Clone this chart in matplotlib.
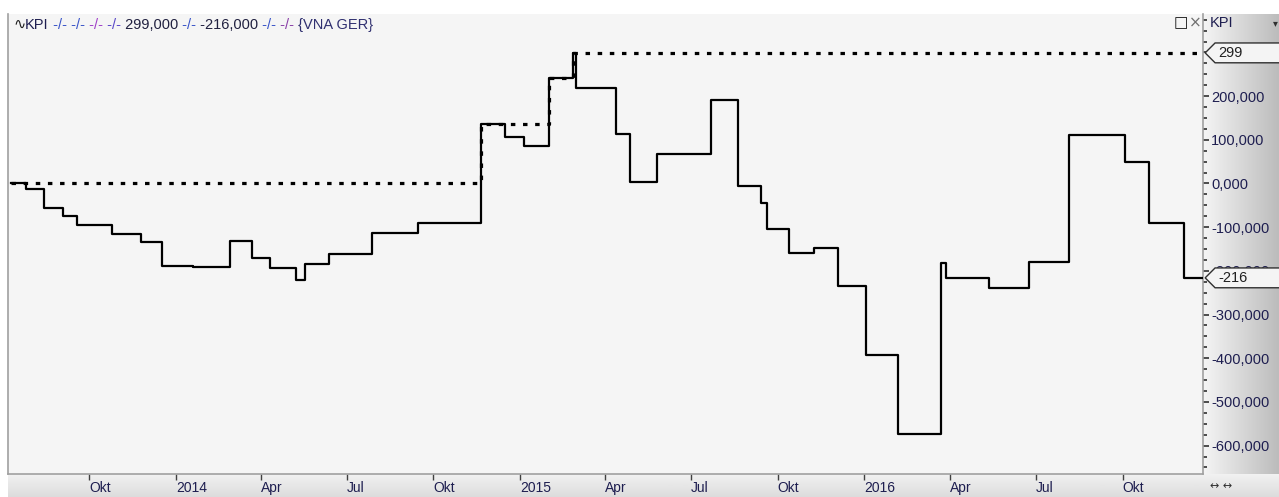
import numpy as np
import pandas as pd
import matplotlib
matplotlib.use('Agg')
import matplotlib.pyplot as plt
from matplotlib.ticker import MultipleLocator, FixedLocator, FuncFormatter
from matplotlib.colors import LinearSegmentedColormap
from matplotlib.path import Path
from matplotlib import transforms

# KPI step series (change dates and values)
kpi_dates = ['2013-07-10', '2013-07-26', '2013-08-14', '2013-09-03', '2013-09-18',
             '2013-10-25', '2013-11-25', '2013-12-17', '2014-01-19', '2014-02-27',
             '2014-03-23', '2014-04-11', '2014-05-08', '2014-05-18', '2014-06-12',
             '2014-07-28', '2014-09-15', '2014-11-21', '2014-12-16', '2015-01-05',
             '2015-02-01', '2015-02-26', '2015-03-01', '2015-04-13', '2015-04-27',
             '2015-05-26', '2015-07-22', '2015-08-20', '2015-09-13', '2015-09-20',
             '2015-10-13', '2015-11-09', '2015-12-04', '2016-01-03', '2016-02-06',
             '2016-03-22', '2016-03-28', '2016-05-12', '2016-06-24', '2016-08-05',
             '2016-10-03', '2016-10-29', '2016-12-05', '2016-12-25']
kpi_values = [0, -13, -55, -74, -95,
              -116, -133, -188, -191, -131,
              -170, -194, -221, -185, -161,
              -114, -90, 136, 106, 86,
              241, 299, 218, 113, 3,
              68, 191, -5, -44, -105,
              -160, -147, -235, -393, -574,
              -183, -217, -240, -179, 111,
              49, -91, -216, -216]

# high-water mark (dotted)
high_dates = ['2013-07-10', '2014-11-20', '2015-02-01', '2015-02-26', '2016-12-25']
high_values = [0, 136, 241, 299, 299]

tick_dates = ['2013-10-01', '2014-01-01', '2014-04-01', '2014-07-01', '2014-10-01',
              '2015-01-01', '2015-04-01', '2015-07-01', '2015-10-01', '2016-01-01',
              '2016-04-01', '2016-07-01', '2016-10-01']
tick_labels = ['Okt', '2014', 'Apr', 'Jul', 'Okt', '2015', 'Apr', 'Jul', 'Okt',
               '2016', 'Apr', 'Jul', 'Okt']
y_ticks = [-600, -500, -400, -300, -200, -100, 0, 100, 200]

last_value = -216
top_value = 299

W, H = 1279, 497
FONT = ['Liberation Sans', 'DejaVu Sans']
NAVY = '#1e1e50'
plt.rcParams['font.family'] = FONT

fig = plt.figure(figsize=(W / 100, H / 100), dpi=100)
fig.patch.set_facecolor('white')

# background panels
panel = fig.add_axes([1204 / W, 23 / H, 75 / W, 460 / H])
panel.imshow(np.linspace(0, 1, 100).reshape(1, -1), aspect='auto', extent=[0, 1, 0, 1],
             cmap=LinearSegmentedColormap.from_list('p', ['#f4f4f4', '#bcbcbc']))
panel.axis('off')

band = fig.add_axes([8 / W, 0, 1271 / W, 23 / H])
band.imshow(np.linspace(0, 1, 50).reshape(-1, 1), aspect='auto', extent=[0, 1, 0, 1],
            cmap=LinearSegmentedColormap.from_list('b', ['#f2f2f2', '#dcdcdc']))
band.axis('off')

ax = fig.add_axes([8 / W, 23 / H, 1195 / W, 460 / H])
ax.set_facecolor('#f5f5f5')

x = pd.to_datetime(kpi_dates)
ax.plot(x, kpi_values, drawstyle='steps-post', color='black', lw=1.6, zorder=3)
xh = pd.to_datetime(high_dates)
ax.plot(xh, high_values, drawstyle='steps-post', color='black', lw=2.3,
        dashes=(1.4, 2.4), zorder=4)

ax.set_xlim(pd.Timestamp('2013-07-07'), pd.Timestamp('2016-12-25'))
ax.set_ylim(-665, 388)

ax.spines['top'].set_visible(False)
for s in ['left', 'right', 'bottom']:
    ax.spines[s].set_color('#a0a0a0')
    ax.spines[s].set_linewidth(1.2)

# x axis
ax.xaxis.set_major_locator(FixedLocator(matplotlib.dates.date2num(pd.to_datetime(tick_dates))))
ax.set_xticklabels(tick_labels)
ax.tick_params(axis='x', direction='out', length=4, width=1, color='#404040',
               labelsize=10, labelcolor=NAVY, pad=1)
for lab in ax.get_xticklabels():
    lab.set_ha('left')

# y axis on right
ax.yaxis.tick_right()
ax.yaxis.set_major_locator(FixedLocator(y_ticks))
ax.yaxis.set_minor_locator(MultipleLocator(25))
ax.yaxis.set_major_formatter(FuncFormatter(lambda v, p: f'{v:.3f}'.replace('.', ',')))
ax.tick_params(axis='y', which='major', direction='out', length=4, width=1.2,
               color='#303030', labelsize=10.5, labelcolor=NAVY, pad=2)
ax.tick_params(axis='y', which='minor', direction='out', length=3, width=1.2,
               color='#303030')


def tag_box(x0, y0, width, height, mutation_size):
    p = 0.2 * mutation_size
    x0, y0, height = x0 - p, y0 - p, height + 2 * p
    tip = height / 2
    x1 = x0 + width + 200
    return Path([(x0 - tip, y0 + tip), (x0, y0 + height), (x1, y0 + height),
                 (x1, y0), (x0, y0), (x0 - tip, y0 + tip)], closed=True)


tag_tr = transforms.offset_copy(ax.get_yaxis_transform(), fig=fig, x=15, y=0, units='dots')
for v in [top_value, last_value]:
    ax.text(1.0, v, f'{v}', transform=tag_tr, ha='left', va='center', fontsize=10.5,
            color='#202020', zorder=10, clip_on=False,
            bbox=dict(boxstyle=tag_box, fc='#f4f4f4', ec='#303030', lw=1))

# legend line at top left
pix = transforms.IdentityTransform()
legend_parts = [('∿', '#202020'), ('KPI', NAVY), (' -/-', '#3a55c8'), (' -/-', '#3a55c8'),
                (' -/-', '#a040c8'), (' -/-', '#5a48c8'), (' 299,000', '#202040'),
                (' -/-', '#3a55c8'), (' -216,000', '#202040'), (' -/-', '#3a55c8'),
                (' -/-', '#8a40a8'), (' {VNA GER}', '#303070')]
fig.canvas.draw()
r = fig.canvas.get_renderer()
cx = 13
for s, c in legend_parts:
    t = fig.text(cx, H - 25, s, transform=pix, color=c, fontsize=10.5, va='center',
                 ha='left', family=FONT)
    cx = t.get_window_extent(r).x1

# header / icons
fig.text(1210, H - 23, 'KPI', transform=pix, color=NAVY, fontsize=10.5, va='center')
fig.text(1275, H - 23, '▾', transform=pix, color='#303030', fontsize=7, va='center',
         ha='center', family=['DejaVu Sans'])
fig.text(1174, H - 23, '□', transform=pix, color='#101010', fontsize=11, va='center',
         fontweight='bold', family=['DejaVu Sans'])
fig.text(1189, H - 23, '×', transform=pix, color='#707070', fontsize=11, va='center',
         family=['DejaVu Sans'])
fig.text(1210, 11, '↔ ↔', transform=pix, color='#303030', fontsize=8, va='center',
         family=['DejaVu Sans'])

fig.savefig('out.png', dpi=100)
